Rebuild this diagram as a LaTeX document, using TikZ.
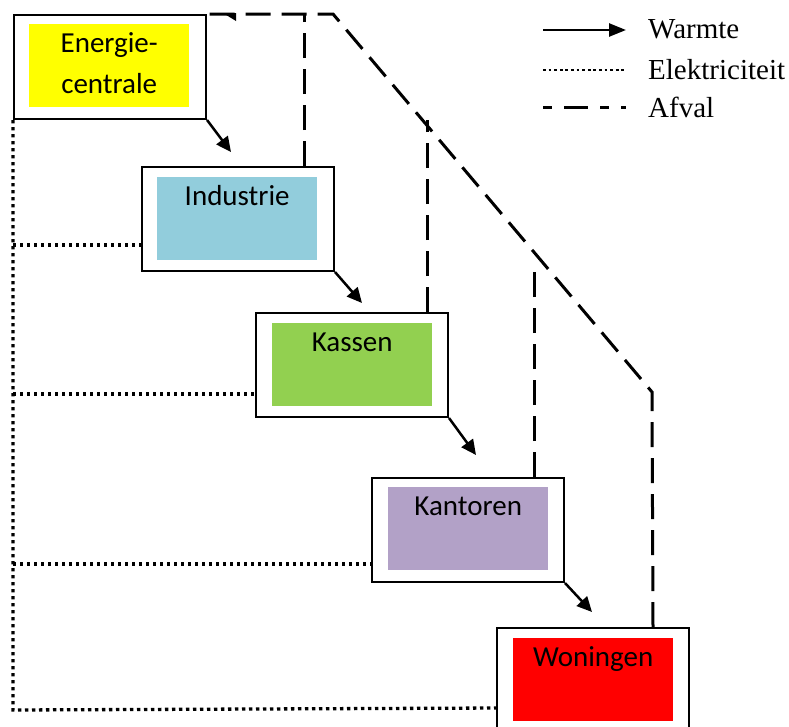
\documentclass[tikz,border=0pt]{standalone}
\usepackage{fontspec}
\setmainfont{Liberation Serif}
\newfontfamily\boxfont{Carlito}
\usetikzlibrary{arrows.meta,calc}
\definecolor{cyel}{HTML}{FFFF00}
\definecolor{cblue}{HTML}{92CDDC}
\definecolor{cgreen}{HTML}{92D050}
\definecolor{cpurple}{HTML}{B2A1C7}
\definecolor{cred}{HTML}{FF0000}
\tikzset{
  outerbox/.style={draw=black, line width=2pt, fill=white, minimum width=192pt, minimum height=104pt, anchor=north west, inner sep=0pt},
  innerbox/.style={fill=#1, minimum width=160pt, minimum height=83pt, anchor=north west, inner sep=0pt},
  boxlabel/.style={font=\boxfont\fontsize{29}{31}\selectfont, anchor=base, inner sep=0pt},
  heat/.style={line width=2.5pt, -{Triangle[length=15pt,width=14pt]}},
  elec/.style={line width=3.3pt, dash pattern=on 3.3pt off 3.7pt},
  waste/.style={line width=3pt, dash pattern=on 25pt off 11pt},
  legtext/.style={font=\fontsize{29}{31}\selectfont, anchor=base west, inner sep=0pt}
}
\begin{document}
\begin{tikzpicture}[x=1pt,y=-1pt]
\useasboundingbox (0,0) rectangle (789,726);
\clip (0,0) rectangle (789,726);
% boxes
\node[outerbox] (E) at (13,14) {};
\node[innerbox=cyel] (Ei) at (29,24) {};
\node[outerbox] (I) at (141,166) {};
\node[innerbox=cblue] (Ii) at (157,177) {};
\node[outerbox] (K) at (255,312) {};
\node[innerbox=cgreen] (Ki) at (272,323) {};
\node[outerbox] (Ka) at (371,477) {};
\node[innerbox=cpurple] (Kai) at (388,487) {};
\node[outerbox] (W) at (496,627) {};
\node[innerbox=cred] (Wi) at (513,638) {};
% labels
\node[boxlabel] (El1) at ($(Ei.north)+(0,28)$) {Energie-};
\node[boxlabel] (El2) at ($(Ei.north)+(0,69)$) {centrale};
\node[boxlabel] (Il) at ($(Ii.north)+(0,28)$) {Industrie};
\node[boxlabel] (Kl) at ($(Ki.north)+(0,28)$) {Kassen};
\node[boxlabel] (Kal) at ($(Kai.north)+(0,28)$) {Kantoren};
\node[boxlabel] (Wl) at ($(Wi.north)+(0,28)$) {Woningen};
% heat arrows
\coordinate (h1) at ($(E.south east)+(24,32)$);
\coordinate (h2) at ($(I.south east)+(27,31)$);
\coordinate (h3) at ($(K.south east)+(27,37)$);
\coordinate (h4) at ($(Ka.south east)+(27,29)$);
\draw[heat] (E.south east) -- (h1);
\draw[heat] (I.south east) -- (h2);
\draw[heat] (K.south east) -- (h3);
\draw[heat] (Ka.south east) -- (h4);
% electricity
\coordinate (ebot) at ($(E.south west)+(0,590)$);
\coordinate (bi) at ($(I.south west)+(0,-27)$);
\coordinate (bk) at ($(K.south west)+(0,-24)$);
\coordinate (bka) at ($(Ka.south west)+(0,-19)$);
\coordinate (bw) at ($(W.north west)+(0,81)$);
\draw[elec] (E.south west) -- (ebot) -- (bw);
\draw[elec] (E.south west |- bi) -- (bi);
\draw[elec] (E.south west |- bk) -- (bk);
\draw[elec] (E.south west |- bka) -- (bka);
% waste
\coordinate (wI) at ($(I.north east)+(-31,0)$);
\coordinate (wK) at ($(K.north east)+(-22,0)$);
\coordinate (wKa) at ($(Ka.north east)+(-31,0)$);
\coordinate (wW) at ($(W.north east)+(-37,0)$);
\coordinate (bend) at (652,392);
\coordinate (top) at (333,14);
\draw[waste] (wW) -- (bend) -- (top) -- (E.north east);
\draw[waste] (wI) -- (wI |- E.north);
\draw[waste] (wK) -- ($(wK)+(0,-192)$);
\draw[waste] (wKa) -- ($(wKa)+(0,-212)$);
\fill ($(E.north east)+(16,-1)$) -- ($(E.north east)+(29,-1)$) -- ($(E.north east)+(29,7)$) -- cycle;
% legend
\coordinate (l1a) at (543,30); \coordinate (l1b) at (626,30);
\coordinate (l2a) at (543,70); \coordinate (l2b) at (626,70);
\coordinate (l3a) at (543,107); \coordinate (l3b) at (626,107);
\draw[line width=2.5pt, -{Triangle[length=17pt,width=13pt]}] (l1a) -- (l1b);
\draw[line width=2.8pt, dash pattern=on 2.8pt off 2.8pt] (l2a) -- (l2b);
\draw[line width=3pt, dash pattern=on 9pt off 12pt on 24pt off 12pt] (l3a) -- (l3b);
\node[legtext] (t1) at (648,38) {Warmte};
\node[legtext] (t2) at (648,79) {Elektriciteit};
\node[legtext] (t3) at (648,117) {Afval};
\end{tikzpicture}
\end{document}
